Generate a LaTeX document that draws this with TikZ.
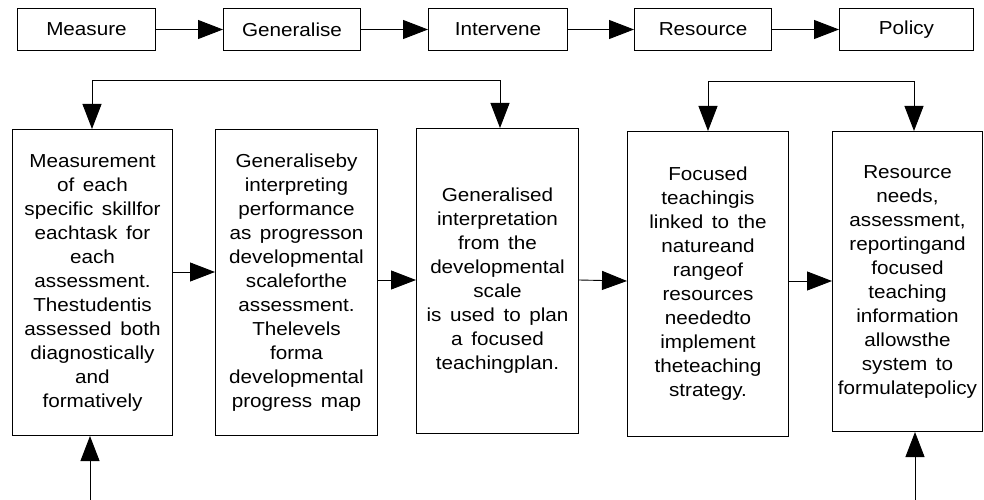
\documentclass[tikz,border=0pt]{standalone}
\usepackage{fontspec}
\setmainfont[FakeStretch=1.1,WordSpace=1.5]{Liberation Sans}
\usetikzlibrary{arrows.meta}
\begin{document}
\begin{tikzpicture}[x=1pt,y=-1pt,
  lbl/.style={draw=black,line width=1pt,inner sep=0pt,anchor=north west,align=center,
    font=\fontsize{18.8}{24}\selectfont},
  arr/.style={line width=0.9pt,-{Triangle[length=25pt,width=19pt]}},
  darr/.style={line width=0.9pt,{Triangle[length=25pt,width=19pt]}-{Triangle[length=25pt,width=19pt]}}]
\useasboundingbox (0,0) rectangle (984,500);
% top row
\node[lbl,minimum width=138pt,minimum height=42pt] (t1) at (17,8) {Measure};
\node[lbl,minimum width=137pt,minimum height=42pt] (t2) at (223,8) {Generalise};
\node[lbl,minimum width=139pt,minimum height=42pt] (t3) at (428,8) {Intervene};
\node[lbl,minimum width=137pt,minimum height=42pt] (t4) at (634,8) {Resource};
\node[lbl,minimum width=134pt,minimum height=42pt] (t5) at (839,8) {Policy};
\draw[arr] (t1) -- (t2);
\draw[arr] (t2) -- (t3);
\draw[arr] (t3) -- (t4);
\draw[arr] (t4) -- (t5);
% bottom row
\node[lbl,minimum width=160pt,minimum height=306pt] (b1) at (12,129)
 {Measurement\\of each\\specific skillfor\\eachtask for\\each\\assessment.\\Thestudentis\\assessed both\\diagnostically\\and\\formatively};
\node[lbl,minimum width=162pt,minimum height=306pt] (b2) at (215,129)
 {Generaliseby\\interpreting\\performance\\as progresson\\developmental\\scaleforthe\\assessment.\\Thelevels\\forma\\developmental\\progress map};
\node[lbl,minimum width=162pt,minimum height=305pt] (b3) at (416,128)
 {Generalised\\interpretation\\from the\\developmental\\scale\\is used to plan\\a focused\\teachingplan.};
\node[lbl,minimum width=161pt,minimum height=305pt] (b4) at (627,131)
 {Focused\\teachingis\\linked to the\\natureand\\rangeof\\resources\\neededto\\implement\\theteaching\\strategy.};
\node[lbl,minimum width=150pt,minimum height=300pt] (b5) at (832,131)
 {Resource\\needs,\\assessment,\\reportingand\\focused\\teaching\\information\\allowsthe\\system to\\formulatepolicy};
% horizontal connectors
\coordinate (r1) at (0,272);
\coordinate (r2) at (0,280);
\coordinate (r3) at (0,281);
\draw[arr] (b1.east |- r1) -- (b2.west |- r1);
\draw[arr] (b2.east |- r2) -- (b3.west |- r2);
\draw[arr] (b3.east |- r2) -- (b4.west |- r3);
\draw[arr] (b4.east |- r3) -- (b5.west |- r3);
% feedback loops
\coordinate (l1) at (92,80);
\coordinate (l2) at (500,80);
\draw[darr] (l1 |- b1.north) -- (l1) -- (l2) -- (l2 |- b3.north);
\coordinate (l3) at (708,81);
\coordinate (l4) at (914,81);
\draw[darr] (l3 |- b4.north) -- (l3) -- (l4) -- (l4 |- b5.north);
% bottom inputs
\coordinate (f1) at (90,500);
\coordinate (f5) at (915,500);
\draw[arr] (f1) -- (f1 |- b1.south);
\draw[arr] (f5) -- (f5 |- b5.south);
\end{tikzpicture}
\end{document}
